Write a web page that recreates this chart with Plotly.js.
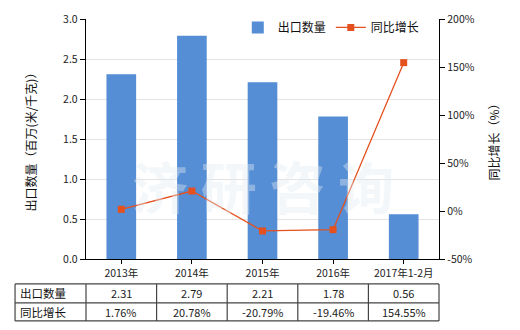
<!DOCTYPE html>
<html>
<head>
<meta charset="utf-8">
<script src="https://cdn.plot.ly/plotly-3.0.1.min.js"></script>
<style>html,body{margin:0;padding:0;background:#fff;}#chart{width:520px;height:330px;}</style>
</head>
<body>
<div id="chart"></div>
<script>
const categories = ["2013年", "2014年", "2015年", "2016年", "2017年1-2月"];
const exportQty = [2.31, 2.79, 2.21, 1.78, 0.56];
const growth = [1.76, 20.78, -20.79, -19.46, 154.55];
const qtyLabels = ["2.31", "2.79", "2.21", "1.78", "0.56"];
const growthLabels = ["1.76%", "20.78%", "-20.79%", "-19.46%", "154.55%"];
const seriesNames = ["出口数量", "同比增长"];
const leftTicks = [0, 0.5, 1.0, 1.5, 2.0, 2.5, 3.0];
const leftTickText = ["0.0", "0.5", "1.0", "1.5", "2.0", "2.5", "3.0"];
const rightTicks = [-50, 0, 50, 100, 150, 200];
const rightTickText = ["-50%", "0%", "50%", "100%", "150%", "200%"];

const FONT = "Noto Sans CJK SC, DejaVu Sans, sans-serif";
const tickFont = {family: FONT, size: 10.5, color: "#222"};

const traces = [
  {type: "bar", x: categories, y: exportQty, name: seriesNames[0],
   marker: {color: "#558ed5"}, width: 0.42, hoverinfo: "none"},
  {type: "scatter", mode: "lines+markers", x: categories, y: growth, yaxis: "y2",
   name: seriesNames[1], line: {color: "#e4501e", width: 1.3},
   marker: {symbol: "square", size: 7, color: "#e4501e"}, hoverinfo: "none"}
];

const rowTop = -0.104, rowMid = -0.183, rowBot = -0.258, tableLeft = -0.201;
const shapes = [];
const lineStyle = {color: "#444", width: 1.2};
[rowTop, rowMid, rowBot].forEach(y => shapes.push({type: "line", xref: "paper", yref: "paper", x0: tableLeft, x1: 1, y0: y, y1: y, line: lineStyle}));
const vlines = [tableLeft, 0];
for (let i = 1; i <= categories.length; i++) vlines.push(i / categories.length);
vlines.forEach(x => shapes.push({type: "line", xref: "paper", yref: "paper", x0: x, x1: x, y0: rowTop, y1: rowBot, line: lineStyle}));

const annotations = [];
const cellFont = {family: FONT, size: 11, color: "#222"};
categories.forEach((c, i) => {
  annotations.push({xref: "x", yref: "paper", x: c, y: (rowTop + rowMid) / 2, text: qtyLabels[i], showarrow: false, font: cellFont, xanchor: "center", yanchor: "middle"});
  annotations.push({xref: "x", yref: "paper", x: c, y: (rowMid + rowBot) / 2, text: growthLabels[i], showarrow: false, font: cellFont, xanchor: "center", yanchor: "middle"});
});
const labelFont = {family: FONT, size: 11.5, color: "#111"};
annotations.push({xref: "paper", yref: "paper", x: tableLeft + 0.008, y: (rowTop + rowMid) / 2, xanchor: "left", yanchor: "middle", text: seriesNames[0], showarrow: false, font: labelFont});
annotations.push({xref: "paper", yref: "paper", x: tableLeft + 0.008, y: (rowMid + rowBot) / 2, xanchor: "left", yanchor: "middle", text: seriesNames[1], showarrow: false, font: labelFont});
annotations.push({xref: "paper", yref: "paper", x: 0.5, y: 0.31, xanchor: "center", yanchor: "middle", text: "济 研 咨 询", showarrow: false,
  font: {family: FONT, size: 56, color: "rgba(228,234,241,0.4)", weight: 700}});

const layout = {
  width: 520, height: 330,
  margin: {l: 86, r: 81, t: 19, b: 71},
  paper_bgcolor: "#fff", plot_bgcolor: "#fff",
  font: {family: FONT, color: "#222"},
  showlegend: true,
  legend: {orientation: "h", x: 0.43, y: 0.965, xanchor: "left", yanchor: "middle",
    font: {family: FONT, size: 12, color: "#111"}, bgcolor: "rgba(0,0,0,0)", traceorder: "normal", itemwidth: 30},
  xaxis: {type: "category", showline: true, linecolor: "#000", linewidth: 1.2, ticks: "outside", ticklen: 4, tickcolor: "#000",
    tickfont: tickFont, showgrid: false, zeroline: false, fixedrange: true},
  yaxis: {range: [0, 3], tickvals: leftTicks, ticktext: leftTickText, showline: true, linecolor: "#000", linewidth: 1.2,
    ticks: "outside", ticklen: 5, tickcolor: "#000", tickfont: tickFont, showgrid: true, gridcolor: "#e3e3e3", gridwidth: 1,
    zeroline: false, title: {text: "出口数量（百万(米/千克)）", font: {family: FONT, size: 12, color: "#111"}, standoff: 24}},
  yaxis2: {range: [-50, 200], overlaying: "y", side: "right", tickvals: rightTicks, ticktext: rightTickText, showline: true,
    linecolor: "#000", linewidth: 1.2, ticks: "outside", ticklen: 5, tickcolor: "#000", tickfont: tickFont, showgrid: false,
    zeroline: false, title: {text: "同比增长（%）", font: {family: FONT, size: 12, color: "#111"}, standoff: 16}},
  shapes: shapes,
  annotations: annotations
};

Plotly.newPlot("chart", traces, layout, {staticPlot: true, displayModeBar: false});
</script>
</body>
</html>
